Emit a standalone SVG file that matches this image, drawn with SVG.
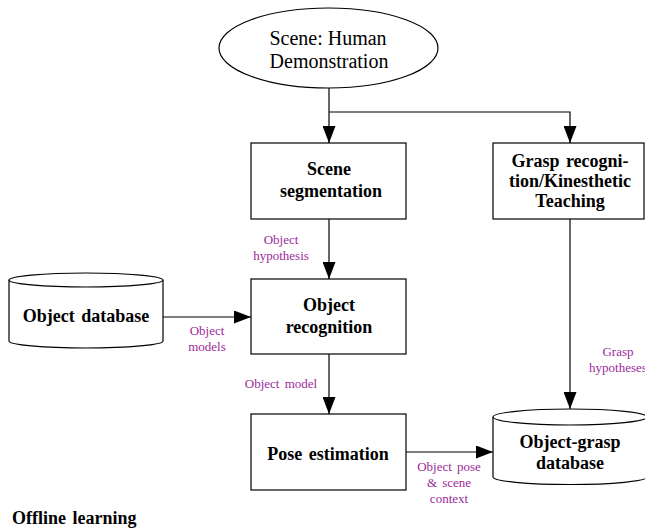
<svg xmlns="http://www.w3.org/2000/svg" width="645" height="531" viewBox="0 0 645 531">
<style>
.shape{fill:#fff;stroke:#000;stroke-width:1.2}
.conn{fill:none;stroke:#000;stroke-width:1.2}
.t{font-family:"Liberation Serif","Times New Roman",serif;font-size:20px;fill:#000;text-anchor:middle}
.b{font-family:"Liberation Serif","Times New Roman",serif;font-size:18px;font-weight:bold;fill:#000;text-anchor:middle;word-spacing:2px}
.l{font-family:"Liberation Serif","Times New Roman",serif;font-size:13px;fill:#9b2a9b;text-anchor:middle;word-spacing:2px}
</style>
<defs>
<marker id="arr" markerUnits="userSpaceOnUse" markerWidth="18" markerHeight="13" refX="17" refY="6.5" orient="auto">
<path d="M0,0 L17,6.5 L0,13 Z" fill="#000"/>
</marker>
</defs>
<g id="connectors">
<path class="conn" d="M329,88 V143" marker-end="url(#arr)"/>
<path class="conn" d="M329,112 H570 V143" marker-end="url(#arr)"/>
<path class="conn" d="M329,219 V279" marker-end="url(#arr)"/>
<path class="conn" d="M163,317 H251" marker-end="url(#arr)"/>
<path class="conn" d="M329,354 V414" marker-end="url(#arr)"/>
<path class="conn" d="M570,219 V409" marker-end="url(#arr)"/>
<path class="conn" d="M406,452 H493" marker-end="url(#arr)"/>
<text class="l" x="281" y="244">Object</text>
<text class="l" x="281" y="260">hypothesis</text>
<text class="l" x="207" y="335">Object</text>
<text class="l" x="207" y="351">models</text>
<text class="l" x="281" y="388">Object model</text>
<text class="l" x="449" y="471">Object pose</text>
<text class="l" x="449" y="487">&amp; scene</text>
<text class="l" x="449" y="503">context</text>
<text class="l" x="618" y="356">Grasp</text>
<text class="l" x="618" y="372">hypotheses</text>
</g>
<g id="scene">
<ellipse class="shape" cx="328.5" cy="48" rx="109.5" ry="40"/>
<text class="t" x="328" y="45">Scene: Human</text>
<text class="t" x="329" y="68">Demonstration</text>
</g>
<g id="scene-segmentation">
<rect class="shape" x="251" y="143" width="155" height="76"/>
<text class="b" x="329" y="175">Scene</text>
<text class="b" x="331" y="197">segmentation</text>
</g>
<g id="grasp-recognition">
<rect class="shape" x="493" y="143" width="151" height="76"/>
<text class="b" x="570" y="167">Grasp recogni-</text>
<text class="b" x="570" y="187">tion/Kinesthetic</text>
<text class="b" x="570" y="207">Teaching</text>
</g>
<g id="object-database">
<path class="shape" d="M9,280 V341 A77,7 0 0 0 163,341 V280"/>
<ellipse class="shape" cx="86" cy="280" rx="77" ry="7"/>
<text class="b" x="86" y="322">Object database</text>
</g>
<g id="object-recognition">
<rect class="shape" x="251" y="279" width="155" height="75"/>
<text class="b" x="329" y="311">Object</text>
<text class="b" x="329" y="333">recognition</text>
</g>
<g id="pose-estimation">
<rect class="shape" x="251" y="414" width="155" height="76"/>
<text class="b" x="328" y="460">Pose estimation</text>
</g>
<g id="object-grasp-database">
<path class="shape" d="M493,417 V477 A77,7.5 0 0 0 647,477 V417"/>
<ellipse class="shape" cx="570" cy="417" rx="77" ry="8"/>
<text class="b" x="570" y="448">Object-grasp</text>
<text class="b" x="570" y="469">database</text>
</g>
<g id="offline-learning">
<text class="b" x="12" y="524" style="text-anchor:start">Offline learning</text>
</g>
</svg>
